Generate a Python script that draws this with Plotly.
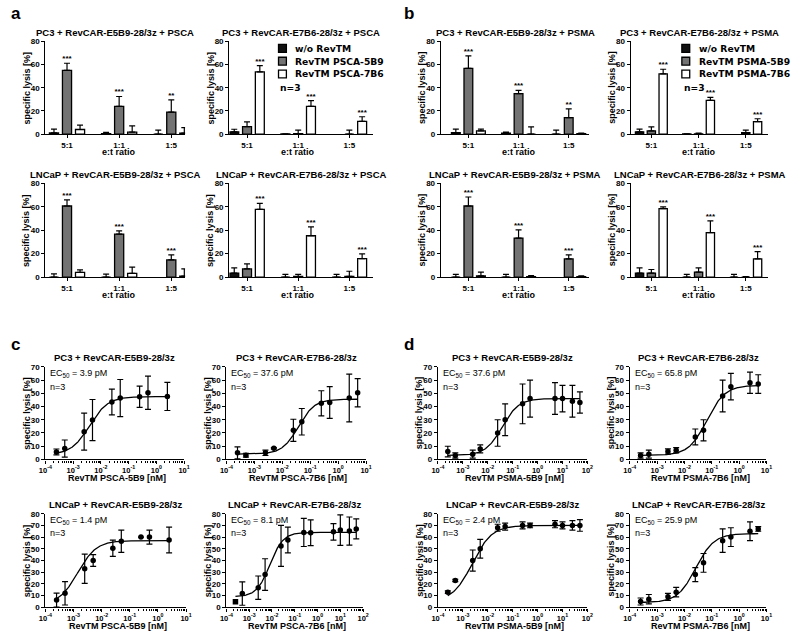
import numpy as np
import plotly.graph_objects as go

W, H = 800, 637
FONT = "Liberation Sans"

# ---------------- data: bar panels (a, b) ----------------
ratios = ["5:1", "1:1", "1:5"]
legend_a = ["w/o RevTM", "RevTM PSCA-5B9", "RevTM PSCA-7B6"]
legend_b = ["w/o RevTM", "RevTM PSMA-5B9", "RevTM PSMA-7B6"]

a1_title = "PC3 + RevCAR-E5B9-28/3z + PSCA"
a1_vals = [[1.0, 0.5, 0.0], [55.0, 24.0, 19.0], [4.0, 1.7, 0.9]]
a1_errs = [[3.4, 1.0, 3.4], [6.2, 8.5, 10.5], [3.7, 5.4, 4.8]]
a1_stars = [["", "", ""], ["***", "***", "**"], ["", "", ""]]

a2_title = "PC3 + RevCAR-E7B6-28/3z + PSCA"
a2_vals = [[2.0, 0.2, None], [6.5, 0.5, 0.0], [53.7, 24.0, 11.0]]
a2_errs = [[2.2, 0.0, None], [4.0, 3.0, 3.4], [5.4, 5.0, 4.0]]
a2_stars = [["", "", ""], ["", "", ""], ["***", "***", "***"]]

a3_title = "LNCaP + RevCAR-E5B9-28/3z + PSCA"
a3_vals = [[0.0, 0.0, None], [60.7, 36.7, 14.7], [4.0, 3.1, 0.8]]
a3_errs = [[2.8, 2.5, None], [5.3, 2.8, 4.3], [2.2, 5.4, 6.2]]
a3_stars = [["", "", ""], ["***", "***", "***"], ["", "", ""]]

a4_title = "LNCaP + RevCAR-E7B6-28/3z + PSCA"
a4_vals = [[3.4, 0.0, 0.0], [7.0, 0.5, 0.6], [57.9, 35.3, 15.8]]
a4_errs = [[4.5, 2.3, 2.3], [4.3, 1.8, 4.4], [5.1, 7.6, 4.0]]
a4_stars = [["", "", ""], ["", "", ""], ["***", "***", "***"]]

b1_title = "PC3 + RevCAR-E5B9-28/3z + PSMA"
b1_vals = [[1.2, 0.8, 0.0], [56.7, 34.9, 14.2], [2.8, 0.0, 0.5]]
b1_errs = [[3.1, 1.0, 3.4], [10.8, 2.8, 7.6], [1.5, 6.2, 0.3]]
b1_stars = [["", "", ""], ["***", "***", "**"], ["", "", ""]]

b2_title = "PC3 + RevCAR-E7B6-28/3z + PSMA"
b2_vals = [[2.0, 0.2, None], [2.8, 0.3, 1.2], [52.0, 29.2, 10.8]]
b2_errs = [[2.3, 0.0, None], [3.4, 0.5, 2.2], [4.0, 2.6, 2.5]]
b2_stars = [["", "", ""], ["", "", ""], ["***", "***", "***"]]

b3_title = "LNCaP + RevCAR-E5B9-28/3z + PSMA"
b3_vals = [[0.0, 0.0, None], [60.7, 33.3, 15.5], [1.0, 0.3, 0.3]]
b3_errs = [[2.3, 2.3, None], [7.7, 7.1, 3.5], [3.2, 1.0, 0.8]]
b3_stars = [["", "", ""], ["***", "***", "***"], ["", "", ""]]

b4_title = "LNCaP + RevCAR-E7B6-28/3z + PSMA"
b4_vals = [[3.4, 0.0, 0.0], [3.4, 4.2, 0.0], [58.5, 38.0, 15.5]]
b4_errs = [[4.5, 2.3, 2.3], [3.1, 3.7, 0.5], [1.4, 10.0, 6.3]]
b4_stars = [["", "", ""], ["", "", ""], ["***", "***", "***"]]

# ---------------- data: dose-response panels (c, d) ----------------
c1_title = "PC3 + RevCAR-E5B9-28/3z"
c1_xlab = "RevTM PSCA-5B9 [nM]"
c1_conc = [2.5e-4, 5e-4, 2.5e-3, 5e-3, 2.5e-2, 5e-2, 0.25, 0.5, 2.5]
c1_y = [5.7, 8.2, 21.0, 29.8, 43.4, 46.4, 47.4, 50.4, 47.6]
c1_err = [2.2, 6.5, 14.0, 15.5, 9.7, 14.0, 8.0, 12.6, 10.6]
c1_fit = dict(bottom=3.5, top=47.5, ec50=0.0039, hill=1.3)
c1_ec50 = "3.9 pM"

c2_title = "PC3 + RevCAR-E7B6-28/3z"
c2_xlab = "RevTM PSCA-7B6 [nM]"
c2_conc = [2.5e-4, 5e-4, 2.5e-3, 5e-3, 2.5e-2, 5e-2, 0.25, 0.5, 2.5, 5]
c2_y = [5.0, 3.2, 5.0, 8.4, 22.0, 28.5, 42.4, 43.0, 46.4, 50.4]
c2_err = [4.5, 1.5, 2.0, 0.5, 8.4, 10.0, 9.5, 12.0, 18.0, 10.6]
c2_fit = dict(bottom=4.0, top=45.5, ec50=0.0376, hill=1.5)
c2_ec50 = "37.6 pM"

c3_title = "LNCaP + RevCAR-E5B9-28/3z"
c3_xlab = "RevTM PSCA-5B9 [nM]"
c3_conc = [2.5e-4, 5e-4, 2.5e-3, 5e-3, 2.5e-2, 5e-2, 0.25, 0.5, 2.5]
c3_y = [6.2, 12.0, 33.0, 40.0, 50.5, 56.5, 60.0, 60.0, 57.6]
c3_err = [6.0, 10.0, 12.5, 5.0, 7.0, 9.5, 0.0, 6.0, 11.0]
c3_fit = dict(bottom=2.0, top=57.0, ec50=0.0014, hill=1.3)
c3_ec50 = "1.4 pM"

c4_title = "LNCaP + RevCAR-E7B6-28/3z"
c4_xlab = "RevTM PSCA-7B6 [nM]"
c4_excl_conc = [2.5e-4]
c4_excl_y = [4.8]
c4_conc = [5e-4, 2.5e-3, 5e-3, 2.5e-2, 5e-2, 0.25, 0.5, 5, 10, 25, 50]
c4_y = [11.8, 16.8, 28.0, 52.5, 57.5, 64.0, 63.7, 64.5, 66.0, 65.2, 67.0]
c4_err = [10.0, 10.0, 13.5, 17.5, 11.0, 12.0, 11.0, 7.0, 13.0, 12.0, 8.5]
c4_fit = dict(bottom=9.0, top=64.0, ec50=0.0081, hill=1.5)
c4_ec50 = "8.1 pM"

d1_title = "PC3 + RevCAR-E5B9-28/3z"
d1_xlab = "RevTM PSMA-5B9 [nM]"
d1_conc = [2.5e-4, 5e-4, 2.5e-3, 5e-3, 2.5e-2, 5e-2, 0.25, 0.5, 5, 10, 25, 50]
d1_y = [6.0, 3.0, 4.0, 8.0, 20.0, 30.0, 42.0, 46.0, 46.0, 46.0, 44.0, 43.0]
d1_err = [4.0, 2.0, 3.0, 3.0, 10.0, 12.0, 15.0, 14.0, 12.0, 10.0, 12.0, 8.0]
d1_fit = dict(bottom=3.0, top=46.0, ec50=0.0376, hill=1.3)
d1_ec50 = "37.6 pM"

d2_title = "PC3 + RevCAR-E7B6-28/3z"
d2_xlab = "RevTM PSMA-7B6 [nM]"
d2_conc = [2.5e-4, 5e-4, 2.5e-3, 5e-3, 2.5e-2, 5e-2, 0.25, 0.5, 2.5, 5]
d2_y = [3.0, 4.0, 6.0, 7.0, 17.0, 22.0, 48.0, 55.0, 58.0, 57.0]
d2_err = [2.0, 3.0, 2.0, 2.0, 6.0, 8.0, 12.0, 10.0, 8.0, 7.0]
d2_fit = dict(bottom=3.0, top=56.0, ec50=0.0658, hill=1.3)
d2_ec50 = "65.8 pM"

d3_title = "LNCaP + RevCAR-E5B9-28/3z"
d3_xlab = "RevTM PSMA-5B9 [nM]"
d3_conc = [2.5e-4, 5e-4, 2.5e-3, 5e-3, 2.5e-2, 5e-2, 0.25, 0.5, 5, 10, 25, 50]
d3_y = [13.0, 23.0, 40.0, 50.0, 68.0, 69.0, 70.0, 70.0, 71.0, 70.0, 70.0, 70.0]
d3_err = [1.0, 1.0, 9.0, 8.0, 3.0, 3.0, 3.0, 2.0, 3.0, 3.0, 4.0, 5.0]
d3_fit = dict(bottom=5.0, top=70.0, ec50=0.0024, hill=1.1)
d3_ec50 = "2.4 pM"

d4_title = "LNCaP + RevCAR-E7B6-28/3z"
d4_xlab = "RevTM PSMA-7B6 [nM]"
d4_conc = [2.5e-4, 5e-4, 2.5e-3, 5e-3, 2.5e-2, 5e-2, 0.25, 0.5, 2.5, 5]
d4_y = [5.0, 7.0, 9.0, 13.0, 28.0, 38.0, 57.0, 60.0, 65.0, 67.0]
d4_err = [3.0, 4.0, 3.0, 4.0, 6.0, 8.0, 10.0, 8.0, 8.0, 2.0]
d4_fit = dict(bottom=4.0, top=63.0, ec50=0.0259, hill=1.3)
d4_ec50 = "25.9 pM"

# ---------------- helpers ----------------
def px_x(p):
    return p / W


def px_y(p):
    return 1 - p / H


fig = go.Figure()
layout_axes = {}
annotations = []
shapes = []
counter = [0]

BAR_COLORS = ["#111111", "#737373", "#ffffff"]
BARGAP = 0.25
OFFS = [-(1 - BARGAP) / 3, 0.0, (1 - BARGAP) / 3]

tickfont = dict(family=FONT, size=8, color="black", weight="bold")
TITLE_FONT = dict(family=FONT, size=9, color="black", weight="bold")


def base_axis():
    return dict(showline=True, linecolor="black", linewidth=1.3, ticks="outside",
                ticklen=3, tickwidth=1.3, tickcolor="black", showgrid=False,
                zeroline=False, tickfont=tickfont, fixedrange=True)


def new_axes(xdom, ydom, xkw, ykw):
    counter[0] += 1
    n = counter[0]
    sx = "" if n == 1 else str(n)
    xa = base_axis()
    xa.update(domain=xdom, anchor="y" + sx)
    xa.update(xkw)
    ya = base_axis()
    ya.update(domain=ydom, anchor="x" + sx)
    ya.update(ykw)
    layout_axes["xaxis" + sx] = xa
    layout_axes["yaxis" + sx] = ya
    return "x" + sx, "y" + sx


def add_text(text, xp, yp, font, xanchor="center", angle=0):
    annotations.append(dict(text=text, x=px_x(xp), y=px_y(yp), xref="paper", yref="paper",
                            showarrow=False, xanchor=xanchor, yanchor="middle",
                            textangle=angle, font=font, borderpad=0))


def add_title(text, xc, ypx):
    add_text(text, xc, ypx, dict(family=FONT, size=9.5, color="black", weight="bold"))


def bar_panel(title, vals, errs, stars, L, C0, S, R, ytop, ybot):
    xr = [(L - C0) / S, (R - C0) / S]
    xk, yk = new_axes([px_x(L), px_x(R)], [px_y(ybot), px_y(ytop)],
                      dict(range=xr, tickmode="array", tickvals=[0, 1, 2], ticktext=ratios),
                      dict(range=[0, 80], tickmode="array", tickvals=[0, 20, 40, 60, 80]))
    for g in range(3):
        fig.add_trace(go.Bar(
            x=[0, 1, 2], y=vals[g], xaxis=xk, yaxis=yk,
            marker=dict(color=BAR_COLORS[g], line=dict(color="black", width=1.3)),
            error_y=dict(type="data", array=errs[g], arrayminus=[0, 0, 0], symmetric=False,
                         color="black", thickness=1.2, width=3),
            showlegend=False,
        ))
    sx, sy, st = [], [], []
    for g in range(3):
        for i in range(3):
            if stars[g][i]:
                sx.append(i + OFFS[g])
                sy.append(vals[g][i] + errs[g][i])
                st.append(stars[g][i])
    fig.add_trace(go.Scatter(x=sx, y=sy, text=st, mode="text", textposition="top center",
                             textfont=dict(family=FONT, size=8, color="black", weight="bold"),
                             xaxis=xk, yaxis=yk, showlegend=False, cliponaxis=False))
    add_title(title, (L + R) / 2, ytop - 9)
    add_text("e:t ratio", C0 + S, ybot + 18, TITLE_FONT)
    add_text("specific lysis [%]", L - 19, (ytop + ybot) / 2, TITLE_FONT, angle=-90)


def logistic(x, p):
    return p["bottom"] + (p["top"] - p["bottom"]) / (1 + (p["ec50"] / x) ** p["hill"])


def dose_panel(title, xlab, conc, y, err, fit, ec50txt, L, R, xdec, ytop, ybot, ymax,
               excl_conc=None, excl_y=None):
    majors = list(range(xdec[0], xdec[1] + 1))
    minors = [k * 10.0 ** e for e in range(xdec[0], xdec[1]) for k in range(2, 10)]
    xk, yk = new_axes([px_x(L), px_x(R)], [px_y(ybot), px_y(ytop)],
                      dict(type="log", range=[xdec[0], xdec[1]], tickmode="array",
                           tickvals=[10.0 ** m for m in majors],
                           ticktext=["10<sup>%d</sup>" % m for m in majors],
                           tickfont=dict(family=FONT, size=7.5, color="black", weight="bold"),
                           minor=dict(tickmode="array", tickvals=minors, ticks="outside",
                                      ticklen=2, tickwidth=1, tickcolor="black")),
                      dict(range=[0, ymax], tickmode="array", tickvals=list(range(0, ymax + 1, 10))))
    allc = list(conc) + (list(excl_conc) if excl_conc else [])
    xs = np.logspace(np.log10(min(allc)), np.log10(max(allc)), 200)
    fig.add_trace(go.Scatter(x=xs, y=logistic(xs, fit), mode="lines",
                             line=dict(color="black", width=1.3), xaxis=xk, yaxis=yk,
                             showlegend=False, hoverinfo="skip"))
    fig.add_trace(go.Scatter(x=conc, y=y, mode="markers", xaxis=xk, yaxis=yk, showlegend=False,
                             marker=dict(color="black", size=5.5, symbol="circle"),
                             error_y=dict(type="data", array=err, color="black", thickness=1.2, width=3)))
    if excl_conc:
        fig.add_trace(go.Scatter(x=excl_conc, y=excl_y, mode="markers", xaxis=xk, yaxis=yk,
                                 showlegend=False, marker=dict(color="black", size=5.5, symbol="square")))
    add_title(title, (L + R) / 2, ytop - 9)
    add_text(xlab, (L + R) / 2 + 2, ybot + 18.5, TITLE_FONT)
    add_text("specific lysis [%]", L - 19, (ytop + ybot) / 2, TITLE_FONT, angle=-90)
    add_text("EC<sub>50</sub> = " + ec50txt, L + 4, ytop + 7,
             dict(family=FONT, size=9, color="black"), xanchor="left")
    add_text("n=3", L + 4, ytop + 20, dict(family=FONT, size=9, color="black"), xanchor="left")


def manual_legend(names, sq_left, text_left, ys):
    for g, name in enumerate(names):
        shapes.append(dict(type="rect", xref="paper", yref="paper",
                           x0=px_x(sq_left), x1=px_x(sq_left + 8),
                           y0=px_y(ys[g] + 4), y1=px_y(ys[g] - 4),
                           fillcolor=BAR_COLORS[g], line=dict(color="black", width=1.3)))
        add_text(name, text_left, ys[g], dict(family="DejaVu Sans", size=9.2, color="black", weight="bold"),
                 xanchor="left")
    add_text("n=3", sq_left + 1, ys[-1] + 14, dict(family="DejaVu Sans", size=9.2, color="black", weight="bold"),
             xanchor="left")


# ---------------- panels ----------------
# a
bar_panel(a1_title, a1_vals, a1_errs, a1_stars, 39, 61, 53, 181, 38, 132)
bar_panel(a2_title, a2_vals, a2_errs, a2_stars, 226, 244, 52, 372, 38, 132)
bar_panel(a3_title, a3_vals, a3_errs, a3_stars, 39, 61, 53, 181, 182, 277)
bar_panel(a4_title, a4_vals, a4_errs, a4_stars, 226, 244, 52, 372, 182, 277)
manual_legend(legend_a, 276, 292, [45, 58, 71])
# b
bar_panel(b1_title, b1_vals, b1_errs, b1_stars, 441, 469, 51, 592, 38, 132)
bar_panel(b2_title, b2_vals, b2_errs, b2_stars, 634, 655, 48, 774, 38, 132)
bar_panel(b3_title, b3_vals, b3_errs, b3_stars, 441, 469, 51, 592, 182, 277)
bar_panel(b4_title, b4_vals, b4_errs, b4_stars, 634, 655, 48, 774, 182, 277)
manual_legend(legend_b, 686, 702, [45, 58, 71])
# c
dose_panel(c1_title, c1_xlab, c1_conc, c1_y, c1_err, c1_fit, c1_ec50, 39, 180, (-4, 1), 368, 462, 70)
dose_panel(c2_title, c2_xlab, c2_conc, c2_y, c2_err, c2_fit, c2_ec50, 223, 365, (-4, 1), 368, 462, 70)
dose_panel(c3_title, c3_xlab, c3_conc, c3_y, c3_err, c3_fit, c3_ec50, 39, 182, (-4, 1), 517, 612, 80)
dose_panel(c4_title, c4_xlab, c4_conc, c4_y, c4_err, c4_fit, c4_ec50, 223, 362, (-4, 2), 517, 612, 80,
           c4_excl_conc, c4_excl_y)
# d
dose_panel(d1_title, d1_xlab, d1_conc, d1_y, d1_err, d1_fit, d1_ec50, 438, 590, (-4, 2), 368, 462, 70)
dose_panel(d2_title, d2_xlab, d2_conc, d2_y, d2_err, d2_fit, d2_ec50, 633, 772, (-4, 1), 368, 462, 70)
dose_panel(d3_title, d3_xlab, d3_conc, d3_y, d3_err, d3_fit, d3_ec50, 438, 590, (-4, 2), 517, 612, 80)
dose_panel(d4_title, d4_xlab, d4_conc, d4_y, d4_err, d4_fit, d4_ec50, 633, 772, (-4, 1), 517, 612, 80)

# panel letters
for letter, xp, yp in [("a", 3, 10), ("b", 403, 10), ("c", 3, 345), ("d", 403, 345)]:
    add_text(letter, xp, yp, dict(family=FONT, size=17, color="black", weight="bold"), xanchor="left")

fig.update_layout(
    width=W, height=H,
    margin=dict(l=0, r=0, t=0, b=0),
    paper_bgcolor="white", plot_bgcolor="white",
    barmode="group", bargap=BARGAP, bargroupgap=0.3,
    showlegend=False,
    annotations=annotations,
    shapes=shapes,
    **layout_axes,
)

fig.write_html("out.html", config={"displayModeBar": False},
               post_script="document.body.style.margin='0';document.body.style.overflow='hidden';")
